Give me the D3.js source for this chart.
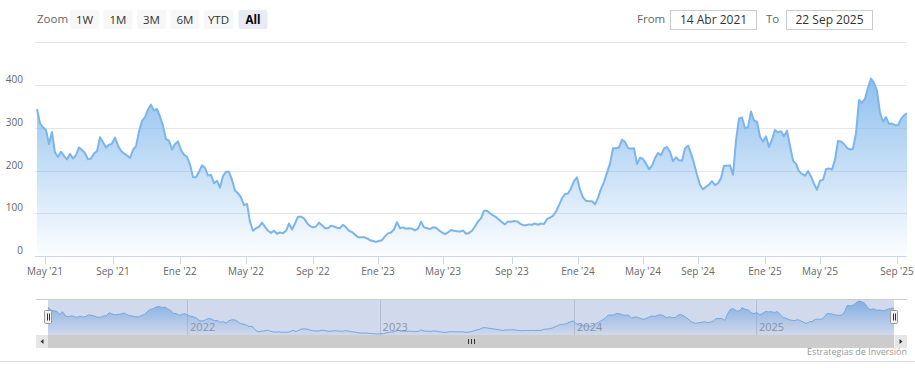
<!DOCTYPE html>
<html><head><meta charset="utf-8">
<script src="https://cdnjs.cloudflare.com/ajax/libs/d3/7.8.5/d3.min.js"></script>
<style>
html,body{margin:0;padding:0;background:#fff;}
svg{display:block;font-family:"Open Sans",sans-serif;}
</style></head>
<body><svg id="c" width="915" height="379"></svg>
<script>
// Series values (ordinal points, evenly spaced as in the original stock chart)
const values = [344,310,301,295,262,290,242,232,244,234,226,239,228,236,254,248,241,226,228,240,
245,278,266,254,260,263,277,258,246,240,235,229,248,257,291,316,325,343,354,340,
344,326,305,273,270,249,262,268,248,237,232,214,185,184,197,212,206,188,190,170,
176,160,187,197,197,178,153,147,137,119,122,80,59,65,68,78,68,59,54,59,
52,55,53,59,76,62,76,92,92,88,77,70,67,69,78,72,65,65,71,69,
66,65,73,67,59,56,50,44,44,44,41,37,35,33,35,37,46,53,55,62,
79,65,67,64,65,64,60,64,80,67,65,63,67,66,60,55,51,55,61,59,
58,57,60,52,54,59,69,81,88,106,106,100,95,91,85,79,74,81,80,82,
81,76,72,72,74,73,76,73,76,75,86,90,94,104,119,135,145,146,158,175,
184,155,137,129,128,128,121,136,157,173,195,216,252,252,254,272,267,253,251,252,
215,230,227,216,203,211,229,241,236,251,255,244,222,231,224,223,252,258,240,217,
190,166,156,162,167,175,166,170,182,211,211,212,190,270,322,324,299,301,338,317,
314,279,268,280,255,272,295,289,292,280,293,258,223,216,198,192,188,199,186,169,
155,176,178,203,205,202,225,269,268,262,253,249,251,287,365,358,368,394,415,405,
387,335,314,325,309,310,306,306,320,329,334];

const tickLabels = ["May '21","Sep '21","Ene '22","May '22","Sep '22","Ene '23","May '23",
  "Sep '23","Ene '24","May '24","Sep '24","Ene '25","May '25","Sep '25"];
const tickIdx = [2.67,25.33,47.67,69.67,92,113.67,135.33,158.33,180.33,202,220.33,242.67,261,286.67];

const yTicks = [0,100,200,300,400,500];
const yLabels = ["0","100","200","300","400",""];

const navYearLabels = ["2022","2023","2024","2025"];
const navYearIdx = [47.67,113.67,180.33,242.67];

const zoomButtons = ["1W","1M","3M","6M","YTD","All"];
const selectedButton = "All";
const fromDate = "14 Abr 2021";
const toDate = "22 Sep 2025";
const credits = "Estrategias de Inversión";

const color = "#7cb5ec";
const svg = d3.select("#c");
const defs = svg.append("defs");
const grad = defs.append("linearGradient").attr("id","g1").attr("x1",0).attr("y1",0).attr("x2",0).attr("y2",1);
grad.append("stop").attr("offset","0").attr("stop-color",color).attr("stop-opacity",0.85);
grad.append("stop").attr("offset","1").attr("stop-color",color).attr("stop-opacity",0.02);

// ---- Range selector ----
svg.append("text").attr("x",37).attr("y",23).attr("font-size",11.5).attr("fill","#666").text("Zoom");
const bx0 = 70, bw = 29, bgap = 4.5;
zoomButtons.forEach((b,i)=>{
  const x = bx0 + i*(bw+bgap) + (i>=5?1:0);
  const sel = b===selectedButton;
  svg.append("rect").attr("x",x).attr("y",10).attr("width",bw).attr("height",19).attr("rx",2)
    .attr("fill", sel?"#e6ebf5":"#f7f7f7");
  svg.append("text").attr("x",x+bw/2).attr("y",23.5).attr("text-anchor","middle")
    .attr("font-size",11.5).attr("fill",sel?"#000":"#333").attr("font-weight",sel?"bold":"normal").text(b);
});
svg.append("text").attr("x",637).attr("y",23).attr("font-size",11.5).attr("fill","#666").text("From");
svg.append("rect").attr("x",670.5).attr("y",10.5).attr("width",86).attr("height",19).attr("fill","#fff").attr("stroke","#cccccc");
svg.append("text").attr("x",713.5).attr("y",24).attr("text-anchor","middle").attr("font-size",12).attr("fill","#333").text(fromDate);
svg.append("text").attr("x",766).attr("y",23).attr("font-size",11.5).attr("fill","#666").text("To");
svg.append("rect").attr("x",786.5).attr("y",10.5).attr("width",86).attr("height",19).attr("fill","#fff").attr("stroke","#cccccc");
svg.append("text").attr("x",829.5).attr("y",24).attr("text-anchor","middle").attr("font-size",12).attr("fill","#333").text(toDate);

// ---- Main chart ----
const L = 37, R = 907;
const x = d3.scaleLinear().domain([0, values.length-1]).range([L, R]);
const y = d3.scaleLinear().domain([0, 500]).range([256, 42.25]);

const g = svg.append("g");
g.selectAll("line.grid").data(yTicks).enter().append("line")
  .attr("x1",35).attr("x2",R).attr("y1",d=>Math.round(y(d))+0.5).attr("y2",d=>Math.round(y(d))+0.5)
  .attr("stroke","#e6e6e6");
g.selectAll("text.yl").data(yTicks).enter().append("text")
  .attr("x",23).attr("y",d=>y(d)-2).attr("text-anchor","end").attr("font-size",10).attr("fill","#666")
  .text((d,i)=>yLabels[i]);

const area = d3.area().x((d,i)=>x(i)).y0(y(0)).y1(d=>y(d));
const line = d3.line().x((d,i)=>x(i)).y(d=>y(d));
g.append("path").datum(values).attr("d",area).attr("fill","url(#g1)");
g.append("path").datum(values).attr("d",line).attr("fill","none").attr("stroke",color).attr("stroke-width",2)
  .attr("stroke-linejoin","round");

// x axis
g.append("line").attr("x1",35).attr("x2",R).attr("y1",256.5).attr("y2",256.5).attr("stroke","#ccd6eb");
tickIdx.forEach((t,i)=>{
  const tx = Math.round(x(t))+0.5;
  g.append("line").attr("x1",tx).attr("x2",tx).attr("y1",256).attr("y2",264).attr("stroke","#ccd6eb");
  g.append("text").attr("x",x(t)).attr("y",275).attr("text-anchor","middle").attr("font-size",10)
    .attr("fill","#666").text(tickLabels[i]);
});

// ---- Navigator ----
const NL = 48, NR = 894, NT = 299, NB = 335;
const nx = d3.scaleLinear().domain([0, values.length-1]).range([NL, NR]);
const ny = d3.scaleLinear().domain([d3.min(values), d3.max(values)]).range([NB-1, NT+2]);
const ng = svg.append("g");
navYearIdx.forEach((t,i)=>{
  const gx = Math.round(nx(t))+0.5;
  ng.append("line").attr("x1",gx).attr("x2",gx).attr("y1",NT).attr("y2",NB).attr("stroke","#d8d8d8");
});
const narea = d3.area().x((d,i)=>nx(i)).y0(NB).y1(d=>ny(d));
const nline = d3.line().x((d,i)=>nx(i)).y(d=>ny(d));
ng.append("path").datum(values).attr("d",narea).attr("fill","url(#g1)");
ng.append("path").datum(values).attr("d",nline).attr("fill","none").attr("stroke",color).attr("stroke-width",1);
navYearIdx.forEach((t,i)=>{
  ng.append("text").attr("x",nx(t)+3).attr("y",331).attr("font-size",11).attr("fill","#999").text(navYearLabels[i]);
});
ng.append("rect").attr("x",NL).attr("y",NT).attr("width",NR-NL).attr("height",NB-NT).attr("fill","rgba(102,133,194,0.3)");
ng.append("path").attr("d",`M36,${NT+0.5}H907`).attr("stroke","#cccccc").attr("fill","none");
// handles
[NL, NR].forEach(hx=>{
  ng.append("rect").attr("x",Math.round(hx)-3.5).attr("y",310.5).attr("width",7).attr("height",13).attr("rx",1)
    .attr("fill","#f2f2f2").attr("stroke","#999999");
  ng.append("path").attr("d",`M${Math.round(hx)-0.5},313.5V320.5M${Math.round(hx)+1.5},313.5V320.5`).attr("stroke","#333").attr("stroke-width",1);
});
// scrollbar
ng.append("rect").attr("x",36).attr("y",335).attr("width",871).attr("height",13).attr("fill","#f2f2f2");
ng.append("rect").attr("x",48).attr("y",335).attr("width",846).attr("height",13).attr("fill","#cccccc");
ng.append("rect").attr("x",36).attr("y",335).attr("width",12).attr("height",13).attr("fill","#e6e6e6");
ng.append("rect").attr("x",895).attr("y",335).attr("width",12).attr("height",13).attr("fill","#e6e6e6");
ng.append("path").attr("d","M43.5,339 L40.5,341.5 L43.5,344 Z").attr("fill","#333");
ng.append("path").attr("d","M899.5,339 L902.5,341.5 L899.5,344 Z").attr("fill","#333");
const cx = (48+894)/2;
ng.append("path").attr("d",`M${cx-2.5},339V344M${cx+0.5},339V344M${cx+3.5},339V344`).attr("stroke","#333");

// credits & bottom line
svg.append("text").attr("x",907).attr("y",355).attr("text-anchor","end").attr("font-size",9).attr("fill","#999").text(credits);
svg.append("line").attr("x1",0).attr("x2",915).attr("y1",361.5).attr("y2",361.5).attr("stroke","#d6d9e0");
</script></body></html>
